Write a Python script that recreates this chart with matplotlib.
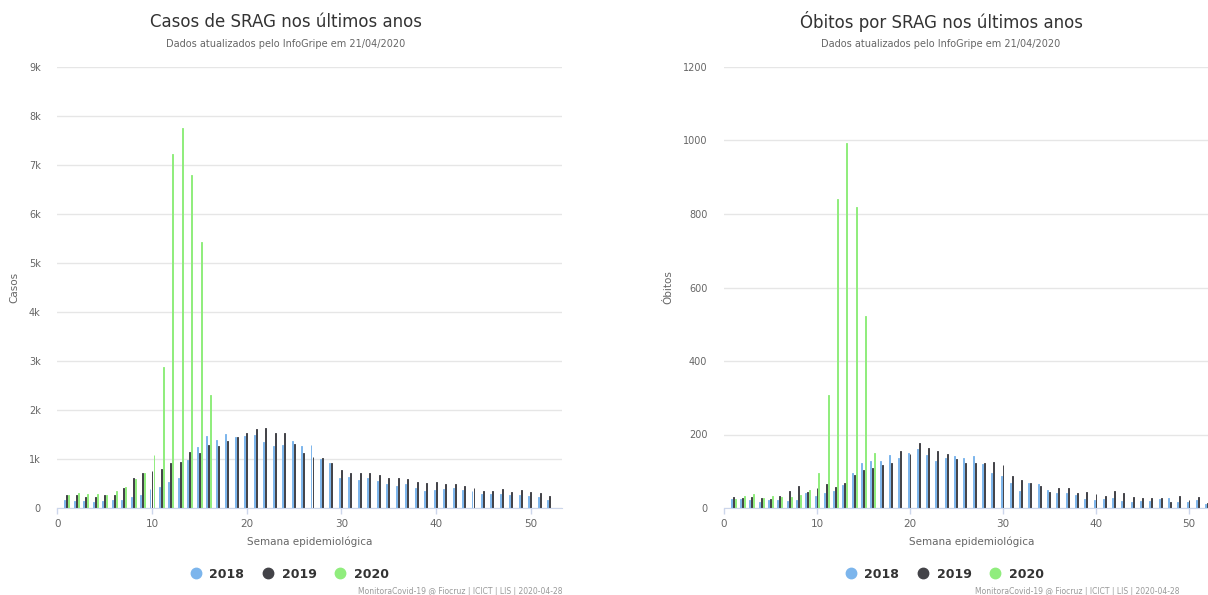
import numpy as np
import matplotlib
matplotlib.use("Agg")
import matplotlib.pyplot as plt
from matplotlib.lines import Line2D
from matplotlib.ticker import FuncFormatter

# ---------------------------------------------------------------------------------------
# dados
# ---------------------------------------------------------------------------------------
semanas = np.arange(1, 53)
semanas_2020 = np.arange(1, 17)

casos_2018 = [160, 145, 150, 125, 140, 160, 160, 230, 260, 380, 435, 540, 605, 980, 1240, 1470,
              1390, 1520, 1440, 1470, 1490, 1355, 1265, 1285, 1370, 1265, 1285, 990, 910, 620,
              625, 570, 605, 550, 490, 450, 480, 400, 355, 365, 380, 400, 365, 345, 295, 280,
              295, 260, 260, 255, 230, 160]
casos_2019 = [260, 260, 230, 230, 260, 260, 400, 620, 720, 760, 800, 910, 945, 1135, 1115, 1280,
              1265, 1370, 1455, 1525, 1605, 1625, 1525, 1525, 1300, 1130, 1050, 1015, 925, 775,
              710, 720, 710, 675, 620, 620, 585, 540, 505, 540, 480, 480, 455, 415, 350, 350,
              380, 325, 360, 330, 310, 250]
casos_2020 = [260, 310, 280, 280, 275, 345, 435, 585, 720, 1080, 2880, 7220, 7760, 6800, 5430, 2310]

obitos_2018 = [25, 25, 23, 16, 23, 23, 19, 21, 40, 32, 41, 47, 62, 95, 122, 128,
               128, 145, 137, 150, 160, 143, 127, 135, 142, 137, 141, 120, 95, 86,
               68, 47, 67, 65, 49, 41, 40, 35, 24, 23, 25, 28, 19, 16, 20, 20,
               25, 28, 16, 16, 23, 12]
obitos_2019 = [30, 28, 30, 28, 25, 32, 46, 59, 44, 55, 65, 58, 68, 89, 103, 109,
               116, 123, 154, 146, 177, 164, 154, 146, 133, 123, 123, 123, 125, 116,
               87, 76, 68, 59, 44, 55, 55, 41, 44, 39, 33, 46, 41, 30, 28, 28,
               28, 16, 33, 23, 30, 14]
obitos_2020 = [25, 32, 39, 28, 32, 30, 30, 35, 49, 95, 307, 840, 994, 820, 522, 150]

anos = ['2018', '2019', '2020']
cores = ['#7cb5ec', '#434348', '#90ed7d']

W, H = 1208, 595
fig = plt.figure(figsize=(W / 100, H / 100), dpi=100)
fig.patch.set_facecolor('white')

credito = 'MonitoraCovid-19 @ Fiocruz | ICICT | LIS | 2020-04-28'
subtitulo = 'Dados atualizados pelo InfoGripe em 21/04/2020'


def painel(x0, px_semana, ymax, yticks, fmt, titulo, ylabel, s18, s19, s20, xc):
    largura = px_semana * 53.3
    ax = fig.add_axes([x0 / W, (H - 508) / H, largura / W, 441 / H])
    d = 0.21
    w = 0.10
    # borda da mesma cor para as colunas finas nao sumirem no antialias
    ax.bar(semanas - d, s18, width=w, color=cores[0], edgecolor=cores[0], lw=0.7, zorder=3)
    ax.bar(semanas, s19, width=w, color=cores[1], edgecolor=cores[1], lw=0.7, zorder=3)
    ax.bar(semanas_2020 + d, s20, width=w, color=cores[2], edgecolor=cores[2], lw=0.7, zorder=3)
    ax.set_xlim(0, 53.3)
    ax.set_ylim(0, ymax)
    ax.set_xticks([0, 10, 20, 30, 40, 50])
    ax.set_yticks(yticks)
    ax.yaxis.set_major_formatter(FuncFormatter(fmt))
    ax.grid(axis='y', color='#e6e6e6', lw=1, zorder=0)
    for s in ['top', 'right', 'left']:
        ax.spines[s].set_visible(False)
    ax.spines['bottom'].set_color('#ccd6eb')
    ax.spines['bottom'].set_zorder(4)
    ax.tick_params(axis='x', colors='#ccd6eb', length=4, width=1, labelcolor='#666666',
                   labelsize=7.5, pad=4)
    ax.tick_params(axis='y', length=0, labelcolor='#666666', labelsize=7, pad=12)
    ax.set_xlabel('Semana epidemiológica', color='#666666', fontsize=7.5, labelpad=5)
    ax.set_ylabel(ylabel, color='#666666', fontsize=7.5, labelpad=7)
    fig.text(xc / W, 1 - 22 / H, titulo, ha='center', va='center', fontsize=12, color='#333333')
    fig.text(xc / W, 1 - 44 / H, subtitulo, ha='center', va='center', fontsize=7, color='#666666')
    hs = [Line2D([], [], marker='o', ls='', ms=7.5, color=c) for c in cores]
    leg = fig.legend(hs, anos, loc='center', bbox_to_anchor=(xc / W, 1 - 574 / H), ncol=3,
                     frameon=False, handletextpad=0.1, columnspacing=0.9,
                     prop={'weight': 'bold', 'size': 9})
    for t in leg.get_texts():
        t.set_color('#333333')
    return ax


painel(57.3, 9.47, 9000, np.arange(0, 9001, 1000),
       lambda v, p: '0' if v == 0 else f'{int(v / 1000)}k',
       'Casos de SRAG nos últimos anos', 'Casos', casos_2018, casos_2019, casos_2020, 286)
painel(724, 9.3, 1200, np.arange(0, 1201, 200),
       lambda v, p: f'{int(v)}',
       'Óbitos por SRAG nos últimos anos', 'Óbitos', obitos_2018, obitos_2019, obitos_2020, 941)

fig.text(562 / W, 1 - 591 / H, credito, ha='right', va='center', fontsize=5.5, color='#999999')
fig.text(975 / W, 1 - 591 / H, credito, ha='left', va='center', fontsize=5.5, color='#999999')

fig.savefig('out.png', dpi=100, facecolor='white')
